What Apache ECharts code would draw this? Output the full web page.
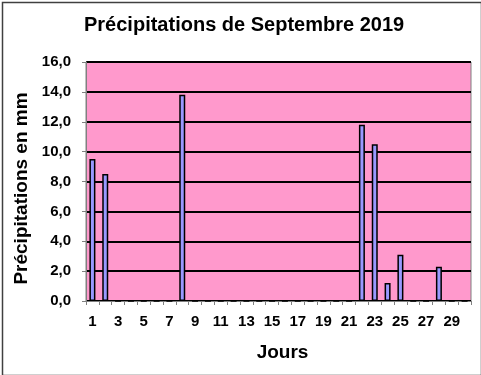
<!DOCTYPE html>
<html>
<head>
<meta charset="utf-8">
<script src="https://cdn.jsdelivr.net/npm/echarts@6/dist/echarts.min.js"></script>
<style>
html,body{margin:0;padding:0;background:#fff;}
#c{width:481px;height:375px;}
</style>
</head>
<body>
<div id="c"></div>
<script>
const days = Array.from({length:30}, (_, i) => String(i + 1));
const rain = [9.5, 8.5, 0, 0, 0, 0, 0, 13.8, 0, 0, 0, 0, 0, 0, 0, 0, 0, 0, 0, 0, 0, 11.8, 10.5, 1.2, 3.1, 0, 0, 2.3, 0, 0];
const yTicks = {min: 0, max: 16, interval: 2};
const titleText = 'Précipitations de Septembre 2019';
const yName = 'Précipitations en mm';
const xName = 'Jours';

const chart = echarts.init(document.getElementById('c'), null, {renderer: 'canvas'});
const font = '"Liberation Sans", Arial, sans-serif';
chart.setOption({
  animation: false,
  backgroundColor: '#ffffff',
  textStyle: {fontFamily: font},
  graphic: [{
    type: 'rect', left: 0, top: 0, z: -10,
    shape: {x: 0.5, y: 0.5, width: 479, height: 373},
    style: {fill: 'none', stroke: '#404040', lineWidth: 1.5}
  }],
  title: {
    text: titleText, left: 79, top: 10,
    textStyle: {fontFamily: font, fontSize: 20, fontWeight: 'bold', color: '#000'}
  },
  grid: {
    left: 86, top: 62, right: 10, bottom: 74,
    show: true, backgroundColor: '#FF99CC', borderColor: '#808080', borderWidth: 1
  },
  xAxis: {
    type: 'category', data: days,
    name: xName, nameLocation: 'middle', nameGap: 42,
    nameTextStyle: {fontFamily: font, fontSize: 19, fontWeight: 'bold', color: '#000', padding: [0, 0, 0, 8]},
    axisLine: {lineStyle: {color: '#808080', width: 1}},
    axisTick: {show: true, interval: 0, alignWithLabel: false, length: 4, lineStyle: {color: '#808080'}},
    axisLabel: {interval: 1, fontFamily: font, fontSize: 15, fontWeight: 'bold', color: '#000', margin: 13}
  },
  yAxis: {
    type: 'value', min: yTicks.min, max: yTicks.max, interval: yTicks.interval,
    name: yName, nameLocation: 'middle', nameGap: 51, nameRotate: 90,
    nameTextStyle: {fontFamily: font, fontSize: 19, fontWeight: 'bold', color: '#000', padding: [0, 14, 0, 0]},
    axisLine: {show: true, lineStyle: {color: '#808080', width: 1}},
    axisTick: {show: true, length: 4, lineStyle: {color: '#808080'}},
    axisLabel: {
      fontFamily: font, fontSize: 15, fontWeight: 'bold', color: '#000', margin: 15,
      formatter: v => v.toFixed(1).replace('.', ',')
    },
    splitLine: {show: true, lineStyle: {color: '#000', width: 2}}
  },
  series: [{
    type: 'bar', data: rain, barWidth: 6,
    itemStyle: {color: '#9999FF', borderColor: '#000', borderWidth: 1.5}
  }]
});
</script>
</body>
</html>
